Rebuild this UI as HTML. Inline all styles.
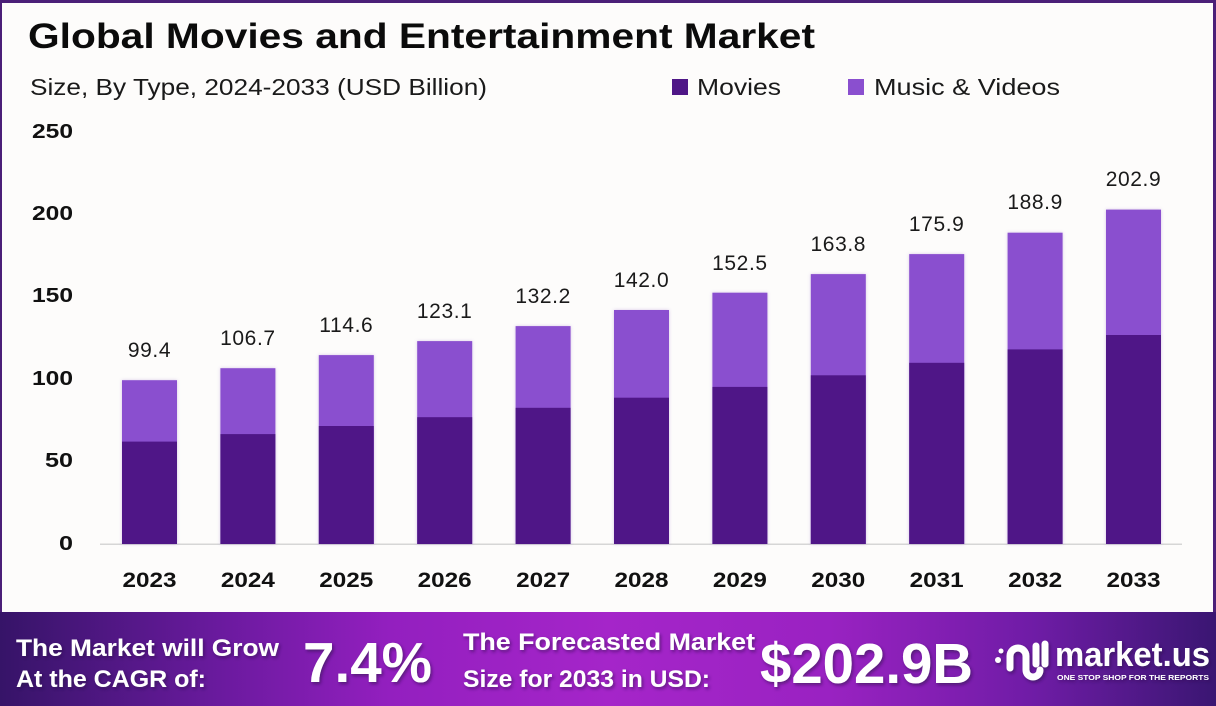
<!DOCTYPE html>
<html>
<head>
<meta charset="utf-8">
<style>
  html,body{margin:0;padding:0;background:#fdfcfb;}
  svg{display:block;}
  text{font-family:"Liberation Sans",sans-serif;}
</style>
</head>
<body>
<svg width="1216" height="706" viewBox="0 0 1216 706" xmlns="http://www.w3.org/2000/svg">
  <defs>
    <linearGradient id="ban" x1="0" y1="0" x2="1" y2="0">
      <stop offset="0" stop-color="#361468"/>
      <stop offset="0.18" stop-color="#6a1a9e"/>
      <stop offset="0.32" stop-color="#931fbf"/>
      <stop offset="0.5" stop-color="#a525c9"/>
      <stop offset="0.68" stop-color="#9a22c2"/>
      <stop offset="0.85" stop-color="#6f1ca6"/>
      <stop offset="1" stop-color="#3a1672"/>
    </linearGradient>
    <filter id="sh" x="-10%" y="-10%" width="130%" height="140%">
      <feDropShadow dx="1.5" dy="2" stdDeviation="1.5" flood-color="#2a0a45" flood-opacity="0.55"/>
    </filter>
    <filter id="bs" x="-10%" y="-5%" width="120%" height="110%">
      <feDropShadow dx="0" dy="0" stdDeviation="1.5" flood-color="#8a5fc0" flood-opacity="0.35"/>
    </filter>
  </defs>

  <!-- background & frame -->
  <rect x="0" y="0" width="1216" height="706" fill="#fdfcfb"/>
  <rect x="0" y="0" width="1216" height="3" fill="#4b1f78"/>
  <rect x="0" y="0" width="2" height="612" fill="#4b1f78"/>
  <rect x="1213" y="0" width="3" height="612" fill="#4b1f78"/>

  <!-- Title -->
  <text x="28" y="48" font-size="35" font-weight="bold" fill="#0b0b0b" textLength="787" lengthAdjust="spacingAndGlyphs">Global Movies and Entertainment Market</text>
  <text x="30" y="95" font-size="23" fill="#1a1a1a" textLength="457" lengthAdjust="spacingAndGlyphs">Size, By Type, 2024-2033 (USD Billion)</text>

  <!-- Legend -->
  <rect x="672" y="79" width="16" height="16" fill="#4f1787"/>
  <text x="697" y="95" font-size="23" fill="#1a1a1a" textLength="84" lengthAdjust="spacingAndGlyphs">Movies</text>
  <rect x="848" y="79" width="16" height="16" fill="#8a4fcf"/>
  <text x="874" y="95" font-size="23" fill="#1a1a1a" textLength="186" lengthAdjust="spacingAndGlyphs">Music &amp; Videos</text>

  <!-- Y tick labels -->
  <g font-size="20" font-weight="bold" fill="#111">
    <text x="32" y="138" textLength="41" lengthAdjust="spacingAndGlyphs">250</text>
    <text x="32" y="220" textLength="41" lengthAdjust="spacingAndGlyphs">200</text>
    <text x="32" y="302" textLength="41" lengthAdjust="spacingAndGlyphs">150</text>
    <text x="32" y="385" textLength="41" lengthAdjust="spacingAndGlyphs">100</text>
    <text x="45" y="467" textLength="28" lengthAdjust="spacingAndGlyphs">50</text>
    <text x="59" y="550" textLength="14" lengthAdjust="spacingAndGlyphs">0</text>
  </g>

  <!-- axis line -->
  <rect x="100" y="543.5" width="1082" height="1.5" fill="#d6d6d6"/>

  <!-- Bars -->
  <g filter="url(#bs)">
    <rect x="122" y="380.2" width="55" height="163.8" fill="#8a4fcf"/>
    <rect x="122" y="441.6" width="55" height="102.4" fill="#4f1787"/>

    <rect x="220.4" y="368.2" width="55" height="175.8" fill="#8a4fcf"/>
    <rect x="220.4" y="434.1" width="55" height="109.9" fill="#4f1787"/>

    <rect x="318.8" y="355.1" width="55" height="188.9" fill="#8a4fcf"/>
    <rect x="318.8" y="426.0" width="55" height="118.0" fill="#4f1787"/>

    <rect x="417.2" y="341.1" width="55" height="202.9" fill="#8a4fcf"/>
    <rect x="417.2" y="417.2" width="55" height="126.8" fill="#4f1787"/>

    <rect x="515.6" y="326.1" width="55" height="217.9" fill="#8a4fcf"/>
    <rect x="515.6" y="407.8" width="55" height="136.2" fill="#4f1787"/>

    <rect x="614" y="310.0" width="55" height="234.0" fill="#8a4fcf"/>
    <rect x="614" y="397.7" width="55" height="146.3" fill="#4f1787"/>

    <rect x="712.4" y="292.7" width="55" height="251.3" fill="#8a4fcf"/>
    <rect x="712.4" y="386.9" width="55" height="157.1" fill="#4f1787"/>

    <rect x="810.8" y="274.1" width="55" height="269.9" fill="#8a4fcf"/>
    <rect x="810.8" y="375.3" width="55" height="168.7" fill="#4f1787"/>

    <rect x="909.2" y="254.1" width="55" height="289.9" fill="#8a4fcf"/>
    <rect x="909.2" y="362.8" width="55" height="181.2" fill="#4f1787"/>

    <rect x="1007.6" y="232.7" width="55" height="311.3" fill="#8a4fcf"/>
    <rect x="1007.6" y="349.4" width="55" height="194.6" fill="#4f1787"/>

    <rect x="1106" y="209.6" width="55" height="334.4" fill="#8a4fcf"/>
    <rect x="1106" y="335.0" width="55" height="209.0" fill="#4f1787"/>
  </g>

  <!-- Value labels -->
  <g font-size="21" fill="#1a1a1a" text-anchor="middle" letter-spacing="0.6">
    <text x="149.5" y="357">99.4</text>
    <text x="247.9" y="345">106.7</text>
    <text x="346.3" y="332">114.6</text>
    <text x="444.7" y="318">123.1</text>
    <text x="543.1" y="303">132.2</text>
    <text x="641.5" y="287">142.0</text>
    <text x="739.9" y="270">152.5</text>
    <text x="838.3" y="251">163.8</text>
    <text x="936.7" y="231">175.9</text>
    <text x="1035.1" y="209">188.9</text>
    <text x="1133.5" y="186">202.9</text>
  </g>

  <!-- Year labels -->
  <g font-size="21" font-weight="bold" fill="#111">
    <text x="122.5" y="587" textLength="54" lengthAdjust="spacingAndGlyphs">2023</text>
    <text x="220.9" y="587" textLength="54" lengthAdjust="spacingAndGlyphs">2024</text>
    <text x="319.3" y="587" textLength="54" lengthAdjust="spacingAndGlyphs">2025</text>
    <text x="417.7" y="587" textLength="54" lengthAdjust="spacingAndGlyphs">2026</text>
    <text x="516.1" y="587" textLength="54" lengthAdjust="spacingAndGlyphs">2027</text>
    <text x="614.5" y="587" textLength="54" lengthAdjust="spacingAndGlyphs">2028</text>
    <text x="712.9" y="587" textLength="54" lengthAdjust="spacingAndGlyphs">2029</text>
    <text x="811.3" y="587" textLength="54" lengthAdjust="spacingAndGlyphs">2030</text>
    <text x="909.7" y="587" textLength="54" lengthAdjust="spacingAndGlyphs">2031</text>
    <text x="1008.1" y="587" textLength="54" lengthAdjust="spacingAndGlyphs">2032</text>
    <text x="1106.5" y="587" textLength="54" lengthAdjust="spacingAndGlyphs">2033</text>
  </g>

  <!-- Banner -->
  <rect x="0" y="612" width="1216" height="94" fill="url(#ban)"/>
  <g fill="#ffffff" font-weight="bold" filter="url(#sh)">
    <text x="16" y="656" font-size="24" textLength="263" lengthAdjust="spacingAndGlyphs">The Market will Grow</text>
    <text x="16" y="687" font-size="24" textLength="190" lengthAdjust="spacingAndGlyphs">At the CAGR of:</text>
    <text x="303" y="682" font-size="57" textLength="129" lengthAdjust="spacingAndGlyphs">7.4%</text>
    <text x="463" y="650" font-size="24" textLength="292" lengthAdjust="spacingAndGlyphs">The Forecasted Market</text>
    <text x="463" y="687" font-size="24" textLength="247" lengthAdjust="spacingAndGlyphs">Size for 2033 in USD:</text>
    <text x="760" y="683" font-size="57" textLength="213" lengthAdjust="spacingAndGlyphs">$202.9B</text>
    <!-- logo icon -->
    <g fill="none" stroke="#ffffff" stroke-width="7" stroke-linecap="round">
      <path d="M1010 668 L1010 656 A8 8 0 0 1 1026 656 L1026 670 A7 7 0 0 0 1040 670"/>
      <path d="M1036 646 L1036 664"/>
      <path d="M1045 644 L1045 664"/>
    </g>
    <circle cx="998" cy="660" r="3" fill="#fff"/>
    <circle cx="1001" cy="651" r="2.5" fill="#fff"/>
    <text x="1055" y="666" font-size="34" textLength="155" lengthAdjust="spacingAndGlyphs">market.us</text>
    <text x="1057" y="680" font-size="7" textLength="152" lengthAdjust="spacingAndGlyphs">ONE STOP SHOP FOR THE REPORTS</text>
  </g>
</svg>
</body>
</html>
